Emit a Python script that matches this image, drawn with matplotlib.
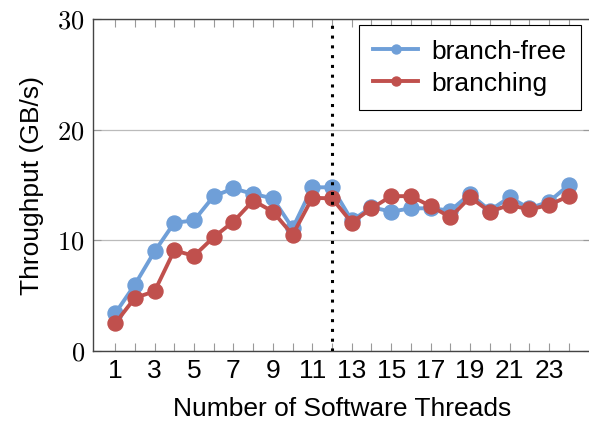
import matplotlib.pyplot as plt

plt.rcParams["mathtext.fontset"] = "cm"
plt.rcParams["font.family"] = "Liberation Sans"

threads = list(range(1, 25))
branch_free = [3.4, 6.0, 9.0, 11.6, 11.8, 14.0, 14.7, 14.2, 13.8, 11.1, 14.8, 14.8,
               11.8, 13.0, 12.6, 12.9, 12.9, 12.7, 14.2, 12.7, 13.9, 12.9, 13.5, 15.0]
branching = [2.5, 4.8, 5.4, 9.1, 8.6, 10.3, 11.7, 13.6, 12.6, 10.5, 13.85, 13.8,
             11.6, 12.9, 14.0, 14.0, 13.1, 12.1, 13.9, 12.6, 13.2, 12.8, 13.2, 14.0]
split_at = 12
yticks = [0, 10, 20, 30]

fig = plt.figure(figsize=(5.89, 4.26), dpi=100)
ax = fig.add_axes([0.158, 0.176, 0.845, 0.779])

ax.plot(threads, branch_free, color="#6f9fd8", linewidth=2.8, marker="o",
        markersize=10.8, label="branch-free", zorder=3)
ax.plot(threads, branching, color="#c0504d", linewidth=2.8, marker="o",
        markersize=10.8, label="branching", zorder=4)
ax.axvline(split_at, color="black", linestyle=(0, (1, 2.2)), linewidth=2.2, zorder=5)

ax.set_xlim(-0.12, 25.12)
ax.set_ylim(0, 30)
ax.set_xticks(threads, minor=True)
ax.set_xticks(threads[::2])
ax.set_xticklabels([str(t) for t in threads[::2]], fontsize=19)
ax.set_yticks(yticks)
ax.set_yticklabels([r"$%d$" % v for v in yticks], fontsize=19)
ax.tick_params(axis="both", which="both", direction="in", top=True, right=True,
               color="#999999", width=0.8)
ax.tick_params(axis="x", which="both", length=6, pad=6)
ax.tick_params(axis="y", length=6, pad=6)
ax.grid(axis="y", color="#bbbbbb", linewidth=0.9)
ax.set_axisbelow(True)
for side in ax.spines.values():
    side.set_color("#444444")
    side.set_linewidth(1.0)

ax.set_xlabel("Number of Software Threads", fontsize=19, labelpad=10)
ax.set_ylabel("Throughput (GB/s)", fontsize=19, labelpad=10)

leg = ax.legend(loc="upper right", bbox_to_anchor=(0.98, 0.982), fontsize=19,
                fancybox=False, edgecolor="black", framealpha=1, markerscale=0.6,
                handlelength=1.7, handletextpad=0.5, borderpad=0.55,
                labelspacing=0.3, borderaxespad=0)
leg.get_frame().set_linewidth(0.8)

fig.savefig("out.png", dpi=100)
